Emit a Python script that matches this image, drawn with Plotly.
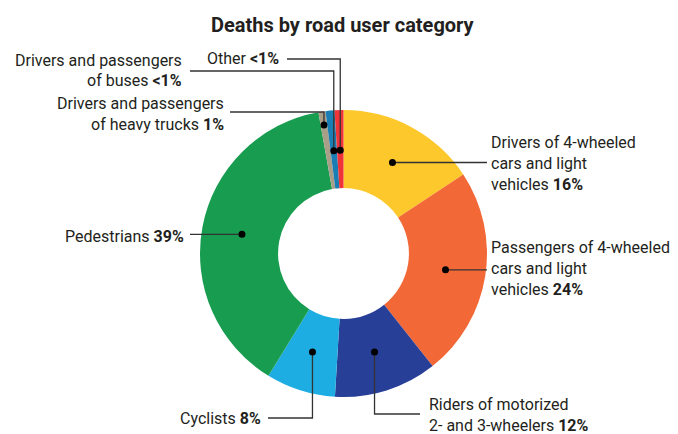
import math
import plotly.graph_objects as go

# ---------------- data ----------------
categories = [
    "Drivers of 4-wheeled cars and light vehicles",
    "Passengers of 4-wheeled cars and light vehicles",
    "Riders of motorized 2- and 3-wheelers",
    "Cyclists",
    "Pedestrians",
    "Drivers and passengers of heavy trucks",
    "Drivers and passengers of buses",
    "Other",
]
shares = [15.7, 23.6, 11.6, 7.8, 38.4, 0.8, 1.0, 1.0]
share_labels = ["16%", "24%", "12%", "8%", "39%", "1%", "<1%", "<1%"]
label_lines = [
    ["Drivers of 4-wheeled", "cars and light", "vehicles"],
    ["Passengers of 4-wheeled", "cars and light", "vehicles"],
    ["Riders of motorized", "2- and 3-wheelers"],
    ["Cyclists"],
    ["Pedestrians"],
    ["Drivers and passengers", "of heavy trucks"],
    ["Drivers and passengers", "of buses"],
    ["Other"],
]
colors = ["#FDC82C", "#F26836", "#283F98", "#1EADE2", "#189C50",
          "#A99F89", "#1A7DB4", "#EE3339"]

# ---------------- layout geometry (pixels, screen coords) ----------------
W, H = 678, 434
OFF = 8  # page body margin in the browser
R = 143.5
CX, CY = 343.5, 253.5
ML = int(round(CX - R - OFF))
MT = int(round(CY - R - OFF))
PW = PH = int(round(2 * R))
MR = W - ML - PW
MB = H - MT - PH
HOLE = 0.456

FONT = "Roboto, Liberation Sans, sans-serif"
TXT = "#231F20"
LINE = "#333333"
FS = 16
LSP = 21

# per-slice label style: dot radius fraction, route, leader end, text anchor
label_style = [
    dict(rf=0.72, route="h", end=(487, None), tx=489, ty=142, align="left"),
    dict(rf=0.72, route="h", end=(487, None), tx=489, ty=247, align="left"),
    dict(rf=0.72, route="vh", end=(420, 414), tx=427, ty=404, align="left"),
    dict(rf=0.72, route="vh", end=(268, 418), tx=263, ty=418, align="right"),
    dict(rf=0.72, route="h", end=(190, None), tx=186, ty=236, align="right"),
    dict(rf=0.905, route="vh", end=(230, 112), tx=226, ty=103, align="right"),
    dict(rf=0.72, route="vh", end=(190, 71), tx=184, ty=60, align="right"),
    dict(rf=0.72, route="vh", end=(287, 59), tx=281, ty=59, align="right"),
]


def px(x):
    return (x - OFF - ML) / PW


def py(y):
    return (H - MB - (y - OFF)) / PH


fig = go.Figure(go.Pie(
    labels=categories,
    values=shares,
    sort=False,
    direction="clockwise",
    rotation=0,
    hole=HOLE,
    marker=dict(colors=colors, line=dict(width=0)),
    textinfo="none",
    hoverinfo="label+percent",
    showlegend=False,
    domain=dict(x=[0, 1], y=[0, 1]),
))

shapes = []
annotations = []
total = sum(shares)
cum = 0.0
for i, v in enumerate(shares):
    mid = (cum + v / 2) / total * 2 * math.pi
    cum += v
    st = label_style[i]
    r = st["rf"] * R
    dx = CX + r * math.sin(mid)
    dy = CY - r * math.cos(mid)
    if st["route"] == "h":
        pts = [(dx, dy), (st["end"][0], dy)]
    else:
        pts = [(dx, dy), (dx, st["end"][1]), (st["end"][0], st["end"][1])]
    path = "M " + " L ".join(f"{px(a):.5f},{py(b):.5f}" for a, b in pts)
    shapes.append(dict(type="path", xref="paper", yref="paper", path=path,
                       line=dict(color=LINE, width=1.3)))
    rd = 3.5
    shapes.append(dict(type="circle", xref="paper", yref="paper",
                       x0=px(dx - rd), x1=px(dx + rd), y0=py(dy + rd), y1=py(dy - rd),
                       fillcolor="#000000", line=dict(width=0)))
    lines = label_lines[i]
    for j, t in enumerate(lines):
        txt = t
        if j == len(lines) - 1:
            txt = f"{t} <b>{share_labels[i]}</b>"
        annotations.append(dict(
            x=px(st["tx"]), y=py(st["ty"] + j * LSP), xref="paper", yref="paper",
            text=txt, showarrow=False,
            xanchor=st["align"], yanchor="middle",
            font=dict(family=FONT, size=FS, color=TXT),
        ))

annotations.append(dict(
    x=px(343), y=py(25), xref="paper", yref="paper",
    text="<b>Deaths by road user category</b>", showarrow=False,
    xanchor="center", yanchor="middle",
    font=dict(family=FONT, size=20, color=TXT),
))

fig.update_layout(
    width=W, height=H,
    margin=dict(l=ML, r=MR, t=MT, b=MB),
    paper_bgcolor="white", plot_bgcolor="white",
    shapes=shapes, annotations=annotations,
)

fig.write_html("out.html")
